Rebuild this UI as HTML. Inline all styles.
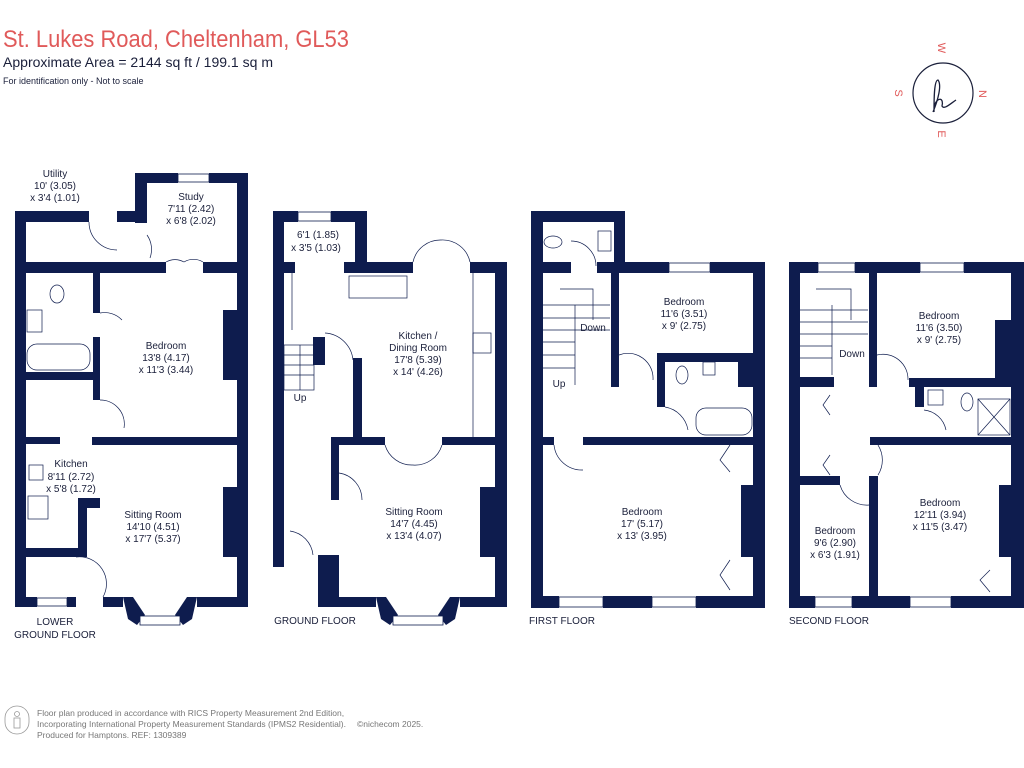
<!DOCTYPE html>
<html><head><meta charset="utf-8"><style>
html,body{margin:0;padding:0;background:#fff;width:1024px;height:768px;overflow:hidden}
svg{display:block}
text{font-family:"Liberation Sans",sans-serif}
.r{font-size:10px;fill:#1a1f3a;text-anchor:middle}
.w{fill:#0e1c4e}
.win{fill:#fff;stroke:#0e1c4e;stroke-width:0.8}
.ln{fill:none;stroke:#0e1c4e;stroke-width:0.7}
</style></head><body>
<svg width="1024" height="768" viewBox="0 0 1024 768">
<text x="3" y="47" font-size="24" fill="#e05a5a" textLength="346" lengthAdjust="spacingAndGlyphs">St. Lukes Road, Cheltenham, GL53</text>
<text x="3" y="67" font-size="13.5" fill="#1a1f3a" textLength="270" lengthAdjust="spacingAndGlyphs">Approximate Area = 2144 sq ft / 199.1 sq m</text>
<text x="3" y="84" font-size="9" fill="#1a1f3a">For identification only - Not to scale</text>

<circle cx="943" cy="93" r="30" fill="none" stroke="#1a1f3a" stroke-width="1.2"/>
<path d="M933 112 C938 100 942 85 938 80 C934 80 934 100 934 112 M934 106 C938 96 944 98 942 106 C944 110 950 104 956 100" fill="none" stroke="#1a1f3a" stroke-width="1.3"/>
<text x="942" y="52" font-size="11" fill="#e05a5a" text-anchor="middle" transform="rotate(90 942 48)">W</text>
<text x="983" y="98" font-size="11" fill="#e05a5a" text-anchor="middle" transform="rotate(90 983 94)">N</text>
<text x="942" y="138" font-size="11" fill="#e05a5a" text-anchor="middle" transform="rotate(90 942 134)">E</text>
<text x="899" y="97" font-size="11" fill="#e05a5a" text-anchor="middle" transform="rotate(90 899 93)">S</text>

<!-- LOWER GROUND -->
<g class="w">
<rect x="15" y="211" width="11" height="396"/>
<rect x="15" y="211" width="74" height="11"/>
<rect x="117" y="211" width="30" height="11"/>
<rect x="135" y="173" width="12" height="50"/>
<rect x="135" y="173" width="43" height="10"/>
<rect x="209" y="173" width="39" height="10"/>
<rect x="237" y="173" width="11" height="434"/>
<rect x="15" y="262" width="151" height="11"/>
<rect x="203" y="262" width="45" height="11"/>
<rect x="93" y="273" width="7" height="40"/>
<rect x="93" y="337" width="7" height="63"/>
<rect x="26" y="372" width="74" height="8"/>
<rect x="92" y="437" width="156" height="8"/>
<rect x="15" y="437" width="45" height="7"/>
<rect x="223" y="310" width="14" height="70"/>
<rect x="223" y="487" width="14" height="70"/>
<rect x="78" y="498" width="9" height="59"/>
<rect x="78" y="498" width="22" height="10"/>
<rect x="15" y="548" width="72" height="9"/>
<rect x="15" y="597" width="22" height="10"/>
<rect x="67" y="597" width="9" height="10"/>
<rect x="103" y="597" width="20" height="10"/>
<rect x="197" y="597" width="51" height="10"/>
<polygon points="123,597 133,597 145,615 137,625 128,619"/>
<polygon points="197,597 187,597 175,615 183,625 192,619"/>
</g>
<rect class="win" x="37" y="598" width="30" height="8"/>
<rect class="win" x="140" y="616" width="40" height="9"/>
<rect class="win" x="178" y="174" width="31" height="8"/>
<path class="ln" d="M89 222 A28 28 0 0 0 117 250 M147 235 A25 25 0 0 1 150 258 M166 262 A18 18 0 0 1 184 262 A18 18 0 0 1 203 262 M100 313 A24 24 0 0 1 122 320 M100 400 A24 24 0 0 1 124 428 M76 557 A27 27 0 0 1 103 597"/>
<rect class="ln" x="29" y="465" width="14" height="15"/><rect class="ln" x="28" y="496" width="20" height="23"/>
<ellipse class="ln" cx="57" cy="294" rx="7" ry="9"/><rect class="ln" x="27" y="310" width="15" height="22"/><rect class="ln" x="27" y="344" width="63" height="26" rx="10"/>
<text class="r" x="55" y="177">Utility</text><text class="r" x="55" y="189">10' (3.05)</text><text class="r" x="55" y="201">x 3'4 (1.01)</text>
<text class="r" x="191" y="200">Study</text><text class="r" x="191" y="212">7'11 (2.42)</text><text class="r" x="191" y="224">x 6'8 (2.02)</text>
<text class="r" x="166" y="349">Bedroom</text><text class="r" x="166" y="361">13'8 (4.17)</text><text class="r" x="166" y="373">x 11'3 (3.44)</text>
<text class="r" x="71" y="467">Kitchen</text><text class="r" x="71" y="480">8'11 (2.72)</text><text class="r" x="71" y="492">x 5'8 (1.72)</text>
<text class="r" x="153" y="518">Sitting Room</text><text class="r" x="153" y="530">14'10 (4.51)</text><text class="r" x="153" y="542">x 17'7 (5.37)</text>
<text class="r" x="55" y="625">LOWER</text><text class="r" x="55" y="638">GROUND FLOOR</text>

<!-- GROUND -->
<g class="w">
<rect x="273" y="211" width="11" height="356"/>
<rect x="273" y="211" width="25" height="11"/>
<rect x="331" y="211" width="36" height="11"/>
<rect x="355" y="211" width="12" height="62"/>
<rect x="284" y="262" width="11" height="11"/>
<rect x="344" y="262" width="69" height="11"/>
<rect x="470" y="262" width="37" height="11"/>
<rect x="495" y="262" width="12" height="345"/>
<rect x="313" y="337" width="12" height="28"/>
<rect x="353" y="358" width="9" height="80"/>
<rect x="331" y="437" width="54" height="8"/>
<rect x="442" y="437" width="65" height="8"/>
<rect x="331" y="437" width="8" height="63"/>
<rect x="318" y="555" width="21" height="52"/>
<rect x="331" y="597" width="45" height="10"/>
<rect x="460" y="597" width="47" height="10"/>
<rect x="480" y="487" width="15" height="70"/>
<polygon points="376,597 386,597 398,615 390,625 381,619"/>
<polygon points="460,597 450,597 438,615 446,625 455,619"/>
</g>
<rect class="win" x="298" y="212" width="33" height="9"/>
<rect class="win" x="393" y="616" width="50" height="9"/>
<rect class="ln" x="349" y="276" width="58" height="22"/><rect class="ln" x="473" y="333" width="18" height="20"/>
<path class="ln" d="M413 262 A28 28 0 0 1 441 240 A28 28 0 0 1 470 262 M325 333 A30 30 0 0 1 353 360 M385 445 A28 28 0 0 0 413 465 A28 28 0 0 0 442 445 M339 473 A27 27 0 0 1 362 500 M290 531 A27 27 0 0 1 313 555 M292 273 L292 330 M473 273 L473 437"/>
<rect class="ln" x="284" y="345" width="30" height="45"/>
<path class="ln" d="M284 355 H314 M284 365 H314 M284 375 H314 M300 345 V390"/>
<text class="r" x="318" y="238">6'1 (1.85)</text><text class="r" x="316" y="251">x 3'5 (1.03)</text>
<text class="r" x="418" y="339">Kitchen /</text><text class="r" x="418" y="351">Dining Room</text><text class="r" x="418" y="363">17'8 (5.39)</text><text class="r" x="418" y="375">x 14' (4.26)</text>
<text class="r" x="300" y="401" font-size="8">Up</text>
<text class="r" x="414" y="515">Sitting Room</text><text class="r" x="414" y="527">14'7 (4.45)</text><text class="r" x="414" y="539">x 13'4 (4.07)</text>
<text class="r" x="315" y="624">GROUND FLOOR</text>

<!-- FIRST -->
<g class="w">
<rect x="531" y="211" width="12" height="397"/>
<rect x="531" y="211" width="94" height="11"/>
<rect x="614" y="211" width="11" height="62"/>
<rect x="531" y="262" width="40" height="11"/>
<rect x="597" y="262" width="72" height="11"/>
<rect x="710" y="262" width="55" height="11"/>
<rect x="753" y="262" width="12" height="346"/>
<rect x="611" y="273" width="8" height="114"/>
<rect x="657" y="353" width="96" height="9"/>
<rect x="657" y="353" width="8" height="54"/>
<rect x="738" y="362" width="15" height="25"/>
<rect x="531" y="437" width="23" height="8"/>
<rect x="583" y="437" width="170" height="8"/>
<rect x="741" y="485" width="12" height="72"/>
<rect x="531" y="596" width="28" height="12"/>
<rect x="603" y="596" width="49" height="12"/>
<rect x="696" y="596" width="69" height="12"/>
</g>
<rect class="win" x="669" y="263" width="41" height="9"/><rect class="win" x="559" y="597" width="44" height="10"/><rect class="win" x="652" y="597" width="44" height="10"/>
<ellipse class="ln" cx="553" cy="242" rx="9" ry="6"/><rect class="ln" x="598" y="231" width="13" height="20"/>
<ellipse class="ln" cx="682" cy="375" rx="6" ry="9"/><rect class="ln" x="703" y="362" width="12" height="13"/><rect class="ln" x="696" y="408" width="56" height="27" rx="10"/>
<path class="ln" d="M571 241 A25 25 0 0 1 596 266 M619 355 A25 25 0 0 1 653 380 M665 407 A28 28 0 0 1 688 430 M554 445 A28 28 0 0 0 583 470 M543 305 H610 M543 318 H610 M543 330 H610 M543 342 H575 M543 355 H575 M543 368 H575 M575 305 V385 M560 289 H593 V320"/>
<path class="ln" d="M730 445 L720 460 L730 472 M730 560 L720 575 L730 590"/>
<text class="r" x="684" y="305">Bedroom</text><text class="r" x="684" y="317">11'6 (3.51)</text><text class="r" x="684" y="329">x 9' (2.75)</text>
<text class="r" x="593" y="331" font-size="8">Down</text><text class="r" x="559" y="387" font-size="8">Up</text>
<text class="r" x="642" y="515">Bedroom</text><text class="r" x="642" y="527">17' (5.17)</text><text class="r" x="642" y="539">x 13' (3.95)</text>
<text class="r" x="562" y="624">FIRST FLOOR</text>

<!-- SECOND -->
<g class="w">
<rect x="789" y="262" width="11" height="346"/>
<rect x="789" y="262" width="29" height="11"/>
<rect x="855" y="262" width="65" height="11"/>
<rect x="964" y="262" width="60" height="11"/>
<rect x="1011" y="262" width="13" height="346"/>
<rect x="869" y="273" width="8" height="114"/>
<rect x="800" y="377" width="34" height="10"/>
<rect x="909" y="378" width="102" height="9"/>
<rect x="915" y="387" width="9" height="20"/>
<rect x="995" y="320" width="16" height="58"/>
<rect x="870" y="437" width="141" height="8"/>
<rect x="800" y="476" width="40" height="9"/>
<rect x="869" y="476" width="9" height="120"/>
<rect x="999" y="485" width="12" height="72"/>
<rect x="789" y="596" width="26" height="12"/>
<rect x="852" y="596" width="58" height="12"/>
<rect x="951" y="596" width="73" height="12"/>
</g>
<rect class="win" x="818" y="263" width="37" height="9"/><rect class="win" x="920" y="263" width="44" height="9"/><rect class="win" x="815" y="597" width="37" height="10"/><rect class="win" x="910" y="597" width="41" height="10"/>
<rect class="ln" x="928" y="390" width="15" height="15"/><ellipse class="ln" cx="967" cy="402" rx="6" ry="9"/><rect class="ln" x="978" y="399" width="32" height="36"/>
<path class="ln" d="M978 399 L1010 435 M1010 399 L978 435 M877 355 A25 25 0 0 1 908 380 M924 410 A25 25 0 0 1 946 430 M878 445 A28 28 0 0 1 878 475 M840 485 A28 28 0 0 0 869 505 M800 310 H868 M800 322 H868 M800 334 H868 M800 346 H832 M800 358 H832 M832 305 V375 M816 289 H851 V320 M830 395 L823 405 L830 415 M830 455 L823 465 L830 475 M990 570 L980 580 L990 592"/>
<text class="r" x="939" y="319">Bedroom</text><text class="r" x="939" y="331">11'6 (3.50)</text><text class="r" x="939" y="343">x 9' (2.75)</text>
<text class="r" x="852" y="357" font-size="8">Down</text>
<text class="r" x="940" y="506">Bedroom</text><text class="r" x="940" y="518">12'11 (3.94)</text><text class="r" x="940" y="530">x 11'5 (3.47)</text>
<text class="r" x="835" y="534">Bedroom</text><text class="r" x="835" y="546">9'6 (2.90)</text><text class="r" x="835" y="558">x 6'3 (1.91)</text>
<text class="r" x="829" y="624">SECOND FLOOR</text>

<!-- footer -->
<rect x="5" y="706" width="24" height="28" rx="12" fill="none" stroke="#999" stroke-width="0.8"/>
<circle cx="17" cy="714" r="2.5" fill="none" stroke="#999" stroke-width="0.8"/>
<rect x="14" y="718" width="6" height="10" fill="none" stroke="#999" stroke-width="0.8"/>
<text x="37" y="716" font-size="8.5" fill="#777">Floor plan produced in accordance with RICS Property Measurement 2nd Edition,</text>
<text x="37" y="727" font-size="8.5" fill="#777">Incorporating International Property Measurement Standards (IPMS2 Residential).</text>
<text x="37" y="738" font-size="8.5" fill="#777">Produced for Hamptons.   REF: 1309389</text>
<text x="357" y="727" font-size="8.5" fill="#777">©nichecom 2025.</text>
</svg>
</body></html>
